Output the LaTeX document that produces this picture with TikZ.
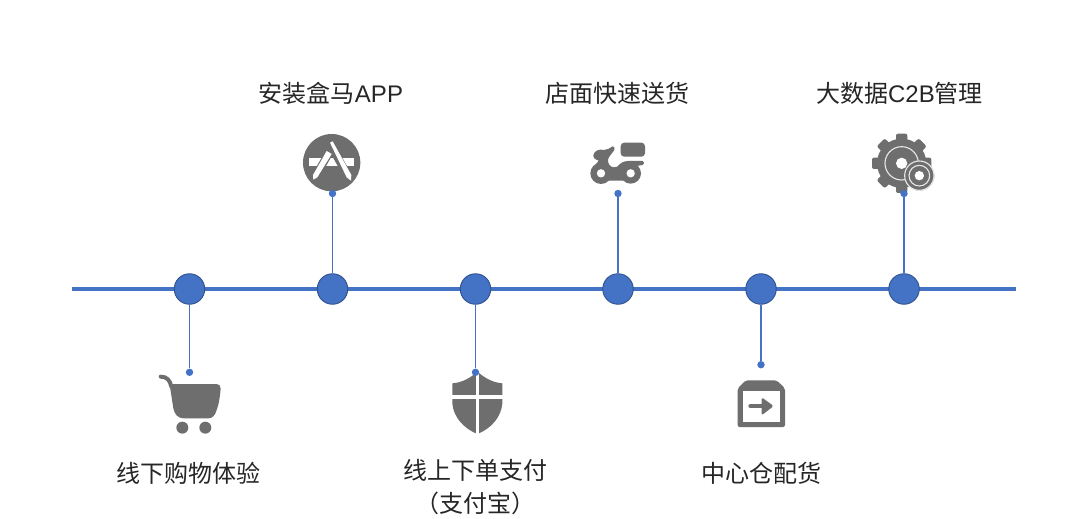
\documentclass[tikz,border=0pt]{standalone}
\usepackage{fontspec}
\setmainfont{Noto Sans CJK SC}
\newfontfamily\latinf{Liberation Sans}
\definecolor{tlblue}{HTML}{4472C4}
\definecolor{tledge}{HTML}{2F528F}
\definecolor{icongray}{HTML}{6E6E6E}
\tikzset{
  hub/.style={circle,fill=tlblue,draw=tledge,line width=0.9pt,minimum size=30.5pt,inner sep=0pt},
  tip/.style={circle,fill=tlblue,minimum size=7.4pt,inner sep=0pt},
  axis/.style={draw=tlblue,line width=3.4pt},
  stem/.style={draw=tlblue,line width=1.1pt},
  lab/.style={font=\fontsize{24}{33}\selectfont,text=black!85,align=center,inner sep=0pt},
  icon/.style={x=0.33333pt,y=-0.33333pt},
}
\begin{document}
\begin{tikzpicture}[x=1pt,y=-1pt]
\useasboundingbox (0,0) rectangle (1080,519);
\fill[white] (0,0) rectangle (1080,519);
% icons
\begin{scope}[icon,shift={(280pt,-120pt)}]
  \fill[icongray] (155,128) circle (86);
  \fill[white] (88,115) rectangle (222,138);
  \draw[icongray,line width=8pt] (112,160) -- (146,100);
  \draw[icongray,line width=8pt] (160,90) -- (205,170);
  \fill[white] (140,93) -- (155,102) -- (112,172) -- (100,179) -- (99,165) -- cycle;
  \fill[white] (150,68) -- (158,64) -- (214,165) -- (213,182) -- (200,172) -- cycle;
\end{scope}
\begin{scope}[icon,shift={(570pt,-120pt)}]
  \fill[icongray,rounded corners=3.5pt] (152,68) rectangle (225,110);
  \fill[icongray] (93,160) circle (32);
  \fill[icongray] (182,160) circle (31);
  \fill[icongray] (70,106) .. controls (72,92) and (88,86) .. (102,90) .. controls (112,90) and (120,84) .. (128,79) .. controls (133,78) and (135,84) .. (133,90) .. controls (124,104) and (112,112) .. (114,125) .. controls (116,138) and (128,146) .. (142,140) .. controls (150,130) and (160,123) .. (175,123) -- (218,123) .. controls (224,124) and (224,134) .. (218,135) -- (200,138) -- (170,182) -- (100,182) -- (66,150) .. controls (72,140) and (80,130) .. (86,122) .. controls (78,120) and (70,116) .. (70,106) -- cycle;
  \fill[white] (93,160) circle (12.5);
  \fill[white] (182,160) circle (12.5);
\end{scope}
\begin{scope}[icon,shift={(855pt,-120pt)}]
  \fill[icongray] (140,130) circle (74);
  \foreach \a in {0,45,...,315}
    \fill[icongray,rotate around={\a:(140,130)},rounded corners=2pt] (123,41) rectangle (157,80);
  \draw[white!85!icongray,line width=1.1pt] (140,130) circle (50);
  \fill[white] (140,130) circle (17);
  \fill[icongray] (193,167) circle (45);
  \draw[white!85!icongray,line width=1.1pt] (193,167) circle (44);
  \draw[white!85!icongray,line width=1.1pt] (193,167) circle (31);
  \fill[white] (193,167) circle (14);
\end{scope}
\begin{scope}[icon,shift={(140pt,-360pt)}]
  \draw[icongray,line width=4pt,line cap=round] (62,50) .. controls (80,50) and (90,60) .. (94,80);
  \fill[icongray] (100,72) -- (230,72) .. controls (238,72) and (242,78) .. (242,86) .. controls (240,110) and (236,135) .. (230,150) .. controls (226,165) and (218,175) .. (205,175) -- (132,175) .. controls (115,175) and (104,165) .. (100,145) -- (90,80) .. controls (90,75) and (94,72) .. (100,72) -- cycle;
  \fill[icongray] (127,203) circle (18);
  \fill[icongray] (196,203) circle (18);
\end{scope}
\begin{scope}[icon,shift={(430pt,-360pt)}]
  \fill[icongray] (142,35) .. controls (165,55) and (190,68) .. (217,70) -- (217,130) .. controls (214,170) and (185,205) .. (142,222) .. controls (100,205) and (70,170) .. (67,130) -- (67,70) .. controls (95,68) and (120,55) .. (142,35) -- cycle;
  \draw[white,line width=3.6pt] (142,30) -- (142,226);
  \draw[white,line width=3.4pt] (60,111) -- (224,111);
\end{scope}
\begin{scope}[icon,shift={(715pt,-355pt)}]
  \fill[icongray,rounded corners=2pt] (92,76) -- (185,76) -- (210,100) -- (210,216) -- (68,216) -- (68,100) -- cycle;
  \fill[white] (84,107) rectangle (194,202);
  \draw[icongray,line width=4.6pt,line cap=round] (107,153) -- (145,153);
  \fill[icongray,rounded corners=1.5pt] (140,127) -- (176,153) -- (140,181) -- cycle;
\end{scope}
% axis
\coordinate (axl) at (72,289);
\coordinate (axr) at (1016,289);
\draw[axis] (axl) -- (axr);
% hubs and tips
\node[hub] (h1) at (189.5,289) {};
\node[hub] (h2) at (332.5,289) {};
\node[hub] (h3) at (475.5,289) {};
\node[hub] (h4) at (618,289) {};
\node[hub] (h5) at (761,289) {};
\node[hub] (h6) at (904,289) {};
\node[tip] (t1) at (189.5,372.3) {};
\node[tip] (t2) at (332.5,193.5) {};
\node[tip] (t3) at (475.5,372.3) {};
\node[tip] (t4) at (618,193.5) {};
\node[tip] (t5) at (761,364.7) {};
\node[tip] (t6) at (904,193.5) {};
\foreach \i in {1,...,6} \draw[stem] (h\i) -- (t\i);
% labels
\node[lab] (l1) at (188,473) {线下购物体验};
\node[lab] (l2) at (331,93) {安装盒马{\latinf APP}};
\node[lab] (l3) at (475,487.5) {线上下单支付\\（支付宝）};
\node[lab] (l4) at (617,93) {店面快速送货};
\node[lab] (l5) at (761,473) {中心仓配货};
\node[lab] (l6) at (899.5,93) {大数据{\latinf C2B}管理};
\end{tikzpicture}
\end{document}
